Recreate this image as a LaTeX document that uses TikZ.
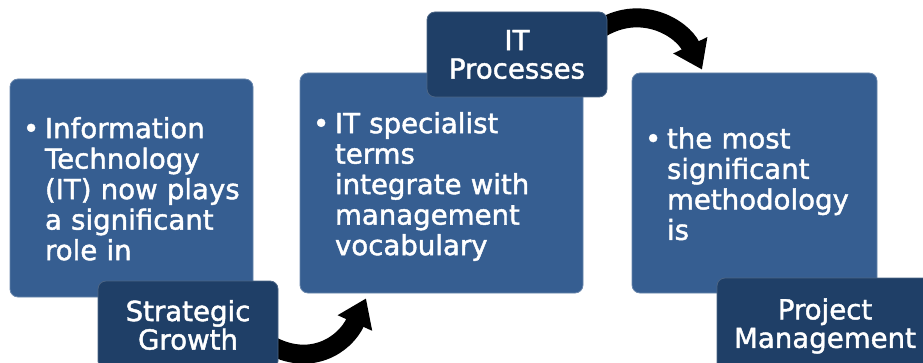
\documentclass[tikz,border=0pt]{standalone}
\usepackage{fontspec}
\setmainfont[FakeBold=1.6, AutoFakeBold=1.6]{DejaVu Sans}
\usepackage{tikz}
\usetikzlibrary{arrows.meta}
\usetikzlibrary{backgrounds}
\definecolor{stepblue}{RGB}{54, 94, 145}
\definecolor{tagblue}{RGB}{31, 63, 103}

\tikzset{
  pointbox/.style={fill=stepblue, draw=stepblue!75!white, line width=0.8pt,
                   rounded corners=8pt, text=white, align=left,
                   inner xsep=13pt, inner ysep=0pt,
                   font=\fontsize{27.6}{30.5}\selectfont\bfseries},
  tagbox/.style={fill=tagblue, draw=tagblue!80!white, line width=0.8pt,
                 rounded corners=8pt, text=white, align=center, inner sep=0pt,
                 font=\fontsize{27.6}{28.5}\selectfont\bfseries},
  turnarrow/.style={black, line width=19pt, -{Triangle[length=27pt, width=36pt]}}
}
\newcommand{\pointlines}[1]{\noindent\makebox[22pt][l]{\rule{0pt}{31.35pt}\textbullet}\begin{tabular}[t]{@{}l@{}}#1\end{tabular}}

\begin{document}
\begin{tikzpicture}[x=1pt, y=-1pt]
            \path[use as bounding box, clip] (0, 0) rectangle (923, 363);
            % Bullet boxes
            \node[pointbox, minimum width=243pt, minimum height=218pt, text width=217pt] (box1) at (131.5, 188.0)
                 {\pointlines{Information\\Technology\\(IT) now plays\\a significant\\role in}};
            \node[pointbox, minimum width=283pt, minimum height=220pt, text width=257pt] (box2) at (441.5, 183.0)
                 {\pointlines{IT specialist\\terms\\integrate with\\management\\vocabulary}};
            \node[pointbox, minimum width=245pt, minimum height=220pt, text width=219pt] (box3) at (754.5, 183.0)
                 {\pointlines{the most\\significant\\methodology\\is}};
            % Tags
            \node[tagbox, minimum width=180pt, minimum height=88pt] (tag1) at (188.0, 325.0) {Strategic\\Growth};
            \node[tagbox, minimum width=180pt, minimum height=85pt] (tag2) at (517.0,  54.5) {IT\\Processes};
            \node[tagbox, minimum width=216pt, minimum height=96pt] (tag3) at (825.0, 326.0) {Project\\Management};
            % Turning arrows
            \begin{scope}[on background layer]
                \draw[turnarrow] ([xshift=-10pt, yshift=-19pt]tag1.east) .. controls (310, 368) and (345, 345) .. ([xshift=-75.5pt, yshift=-5pt]box2.south);
                \draw[turnarrow] ([xshift=-10pt, yshift=24pt]tag2.east) .. controls (640, 2) and (682, 28) .. ([xshift=-52.5pt, yshift=3pt]box3.north);
            \end{scope}
\end{tikzpicture}
\end{document}
